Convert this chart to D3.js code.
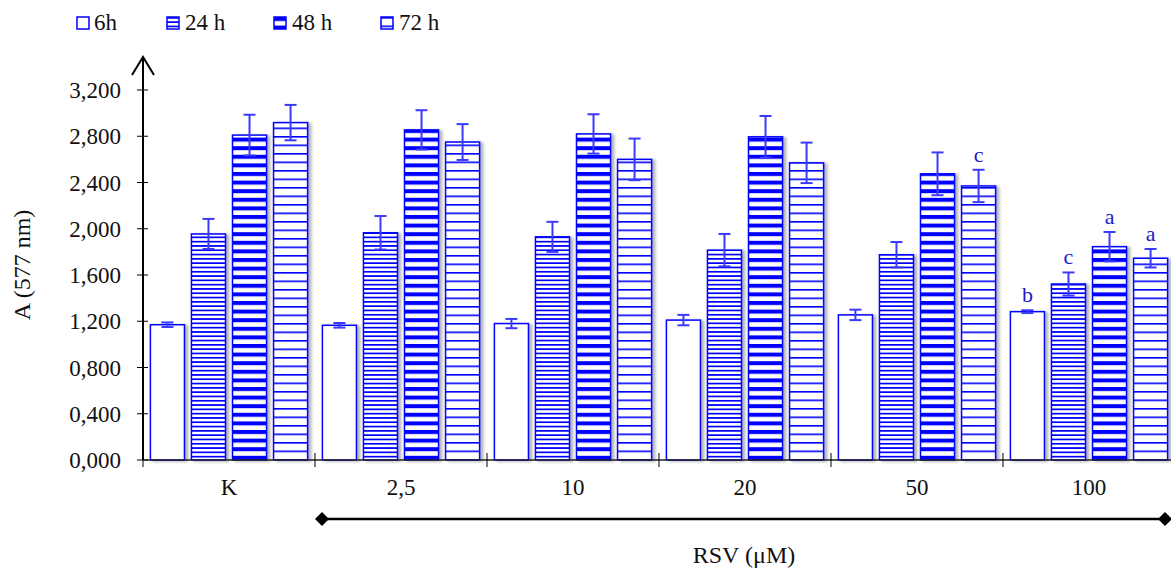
<!DOCTYPE html>
<html>
<head>
<meta charset="utf-8">
<script src="https://cdn.jsdelivr.net/npm/d3@7"></script>
<style>
  html, body { margin: 0; padding: 0; background: #fff; }
  svg { display: block; font-family: "Liberation Serif", "Times New Roman", serif; }
</style>
</head>
<body>
<svg id="chart" width="1171" height="568"></svg>
<script>
// categories and series
const categories = ["K", "2,5", "10", "20", "50", "100"];
const seriesNames = ["6h", "24 h", "48 h", "72 h"];

// means per series (same order as categories)
const values = {
  "6h":   [1.170, 1.165, 1.180, 1.210, 1.255, 1.283],
  "24 h": [1.955, 1.965, 1.930, 1.815, 1.775, 1.522],
  "48 h": [2.810, 2.855, 2.820, 2.795, 2.475, 1.845],
  "72 h": [2.918, 2.750, 2.600, 2.570, 2.370, 1.745],
};
// error bar half-lengths
const errors = {
  "6h":   [0.020, 0.020, 0.040, 0.045, 0.045, 0.012],
  "24 h": [0.130, 0.145, 0.130, 0.140, 0.110, 0.100],
  "48 h": [0.176, 0.170, 0.170, 0.180, 0.185, 0.127],
  "72 h": [0.153, 0.155, 0.180, 0.175, 0.140, 0.080],
};
// significance letters
const letters = [
  { cat: "50", series: "72 h", text: "c" },
  { cat: "100", series: "6h", text: "b" },
  { cat: "100", series: "24 h", text: "c" },
  { cat: "100", series: "48 h", text: "a" },
  { cat: "100", series: "72 h", text: "a" },
];
const yTicks = [0, 0.4, 0.8, 1.2, 1.6, 2.0, 2.4, 2.8, 3.2];

const BLUE = "#0000ff";
const ERR = "#3a3aff";
const svg = d3.select("#chart");
const defs = svg.append("defs");

// pattern fills: [period, line thickness]
const patternSpec = {
  "6h": null,
  "24 h": [4.3, 1.7],
  "48 h": [8.6, 4.0],
  "72 h": [8.5, 1.6],
};
const fillFor = {};
seriesNames.forEach((s, i) => {
  const spec = patternSpec[s];
  if (!spec) { fillFor[s] = "#fff"; return; }
  const p = defs.append("pattern")
    .attr("id", "pat" + i)
    .attr("patternUnits", "userSpaceOnUse")
    .attr("width", 10).attr("height", spec[0]);
  p.append("rect").attr("width", 10).attr("height", spec[0]).attr("fill", "#fff");
  p.append("rect").attr("y", 0).attr("width", 10).attr("height", spec[1]).attr("fill", BLUE);
  fillFor[s] = `url(#pat${i})`;
});

const shadow = defs.append("filter").attr("id", "shadow")
  .attr("x", "-20%").attr("y", "-5%").attr("width", "150%").attr("height", "110%");
shadow.append("feDropShadow")
  .attr("dx", 3).attr("dy", 1).attr("stdDeviation", 1.8)
  .attr("flood-color", "#000").attr("flood-opacity", 0.3);

// scales
const y = d3.scaleLinear().domain([0, 3.2]).range([460, 90]);
const x0 = d3.scaleBand().domain(categories).range([143, 143 + 6 * 172]).padding(0);
const x1 = d3.scaleBand().domain(seriesNames).range([0, x0.bandwidth()])
  .paddingInner(0.17).paddingOuter(0.18);

// bars
const rows = [];
categories.forEach((c, ci) => {
  seriesNames.forEach((s) => {
    rows.push({ cat: c, series: s, v: values[s][ci], e: errors[s][ci] });
  });
});

svg.append("g")
  .selectAll("rect")
  .data(rows)
  .join("rect")
  .attr("x", (d) => x0(d.cat) + x1(d.series))
  .attr("y", (d) => y(d.v))
  .attr("width", x1.bandwidth())
  .attr("height", (d) => y(0) - y(d.v))
  .attr("fill", (d) => fillFor[d.series])
  .attr("stroke", BLUE)
  .attr("stroke-width", 1.5)
  .attr("filter", "url(#shadow)");

// error bars
const eb = svg.append("g").attr("stroke", ERR).attr("stroke-width", 2).attr("fill", "none");
rows.forEach((d) => {
  const cx = x0(d.cat) + x1(d.series) + x1.bandwidth() / 2;
  const top = y(d.v + d.e), bot = y(d.v - d.e);
  eb.append("line").attr("x1", cx).attr("x2", cx).attr("y1", top).attr("y2", bot);
  eb.append("line").attr("x1", cx - 6).attr("x2", cx + 6).attr("y1", top).attr("y2", top);
  eb.append("line").attr("x1", cx - 6).attr("x2", cx + 6).attr("y1", bot).attr("y2", bot);
});

// letters above error bars
svg.append("g")
  .selectAll("text")
  .data(letters)
  .join("text")
  .attr("x", (d) => x0(d.cat) + x1(d.series) + x1.bandwidth() / 2)
  .attr("y", (d) => {
    const i = categories.indexOf(d.cat);
    return y(values[d.series][i] + errors[d.series][i]) - 8;
  })
  .attr("text-anchor", "middle")
  .attr("font-size", "22px")
  .attr("fill", "#1a1acc")
  .text((d) => d.text);

// y axis
const yAxis = svg.append("g");
yAxis.append("line")
  .attr("x1", 143).attr("x2", 143).attr("y1", 460).attr("y2", 57)
  .attr("stroke", "#000").attr("stroke-width", 2);
yAxis.append("path")
  .attr("d", "M132,75 L143,57 L154,75")
  .attr("fill", "none").attr("stroke", "#000").attr("stroke-width", 2);
yAxis.selectAll("line.tick")
  .data(yTicks)
  .join("line")
  .attr("class", "tick")
  .attr("x1", 137).attr("x2", 148)
  .attr("y1", (d) => y(d)).attr("y2", (d) => y(d))
  .attr("stroke", "#000").attr("stroke-width", 1);
yAxis.selectAll("text")
  .data(yTicks)
  .join("text")
  .attr("x", 121)
  .attr("y", (d) => y(d))
  .attr("dy", "0.35em")
  .attr("text-anchor", "end")
  .attr("font-size", "23px")
  .attr("fill", "#111")
  .text((d) => d.toFixed(3).replace(".", ","));

svg.append("text")
  .attr("transform", "translate(30,265) rotate(-90)")
  .attr("text-anchor", "middle")
  .attr("font-size", "24px")
  .attr("fill", "#111")
  .text("A (577 nm)");

// x axis
const xAxis = svg.append("g");
xAxis.append("line")
  .attr("x1", 143).attr("x2", 1171).attr("y1", 460).attr("y2", 460)
  .attr("stroke", "#222").attr("stroke-width", 1.5);
const bounds = categories.map((c) => x0(c)).concat([x0.range()[1]]);
xAxis.selectAll("line.tick")
  .data(bounds)
  .join("line")
  .attr("class", "tick")
  .attr("x1", (d) => d).attr("x2", (d) => d)
  .attr("y1", 453).attr("y2", 467)
  .attr("stroke", "#000").attr("stroke-width", 1);
xAxis.selectAll("text")
  .data(categories)
  .join("text")
  .attr("x", (d) => x0(d) + x0.bandwidth() / 2)
  .attr("y", 495)
  .attr("text-anchor", "middle")
  .attr("font-size", "23px")
  .attr("fill", "#111")
  .text((d) => d);

// RSV bracket
const rsv = svg.append("g");
rsv.append("line")
  .attr("x1", 322).attr("x2", 1165).attr("y1", 519).attr("y2", 519)
  .attr("stroke", "#000").attr("stroke-width", 2.5);
[322, 1165].forEach((cx) => {
  rsv.append("path")
    .attr("d", `M${cx - 7},519 L${cx},512 L${cx + 7},519 L${cx},526 Z`)
    .attr("fill", "#000");
});
svg.append("text")
  .attr("x", 744).attr("y", 563)
  .attr("text-anchor", "middle")
  .attr("font-size", "24px")
  .attr("fill", "#111")
  .text("RSV (μM)");

// legend
const legendX = [77, 167, 274, 381];
const legend = svg.append("g")
  .selectAll("g")
  .data(seriesNames)
  .join("g")
  .attr("transform", (d, i) => `translate(${legendX[i]},17)`);
legend.append("rect")
  .attr("width", 12).attr("height", 12)
  .attr("fill", (d) => fillFor[d])
  .attr("stroke", BLUE).attr("stroke-width", 1.5);
legend.append("text")
  .attr("x", (d, i) => (i === 0 ? 17 : 18))
  .attr("y", 12.5)
  .attr("font-size", "23px")
  .attr("fill", "#111")
  .text((d) => d);
</script>
</body>
</html>
